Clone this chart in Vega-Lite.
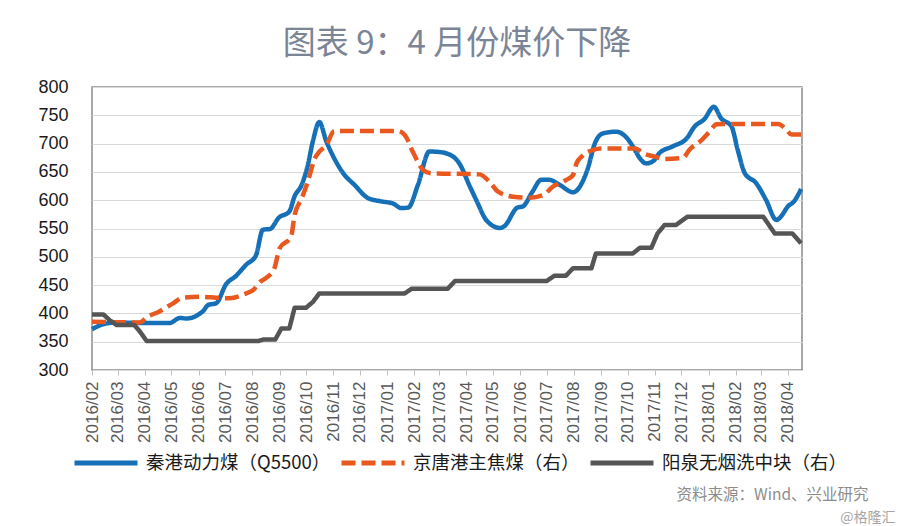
{
"$schema": "https://vega.github.io/schema/vega-lite/v6.json",
"width": 710, "height": 283,
"autosize": {"type": "none"},
"padding": {"left": 92, "top": 87, "right": 98, "bottom": 156},
"background": "white",
"title": {"text": "图表 9：4 月份煤价下降", "font": "Noto Sans CJK SC", "fontSize": 33, "fontWeight": "normal", "color": "#7b8596", "anchor": "middle", "offset": 17, "dx": 10},
"config": {
  "view": {"stroke": "#8c8c8c", "strokeWidth": 1.5},
  "font": "Liberation Sans",
  "legend": {"orient": "none", "legendX": -20, "legendY": 342, "direction": "horizontal", "symbolType": "stroke", "symbolSize": 3969, "symbolStrokeWidth": 5, "labelFontSize": 18.5, "labelFont": "Noto Sans CJK SC", "labelColor": "#1a1a1a", "labelOffset": 6, "columnPadding": 0, "labelLimit": 400}
},
"data": {"values": [
{"s":"秦港动力煤（Q5500）","d":"2016/02/01","v":372},{"s":"秦港动力煤（Q5500）","d":"2016/02/14","v":381},{"s":"秦港动力煤（Q5500）","d":"2016/02/29","v":384},{"s":"秦港动力煤（Q5500）","d":"2016/03/31","v":383},{"s":"秦港动力煤（Q5500）","d":"2016/04/29","v":383},{"s":"秦港动力煤（Q5500）","d":"2016/05/11","v":392},{"s":"秦港动力煤（Q5500）","d":"2016/05/18","v":391},{"s":"秦港动力煤（Q5500）","d":"2016/06/06","v":404},{"s":"秦港动力煤（Q5500）","d":"2016/06/12","v":415},{"s":"秦港动力煤（Q5500）","d":"2016/06/21","v":418},{"s":"秦港动力煤（Q5500）","d":"2016/07/02","v":451},{"s":"秦港动力煤（Q5500）","d":"2016/07/14","v":467},{"s":"秦港动力煤（Q5500）","d":"2016/07/25","v":486},{"s":"秦港动力煤（Q5500）","d":"2016/08/05","v":502},{"s":"秦港动力煤（Q5500）","d":"2016/08/13","v":548},{"s":"秦港动力煤（Q5500）","d":"2016/08/21","v":549},{"s":"秦港动力煤（Q5500）","d":"2016/08/31","v":569},{"s":"秦港动力煤（Q5500）","d":"2016/09/12","v":580},{"s":"秦港动力煤（Q5500）","d":"2016/09/18","v":607},{"s":"秦港动力煤（Q5500）","d":"2016/09/26","v":627},{"s":"秦港动力煤（Q5500）","d":"2016/10/03","v":662},{"s":"秦港动力煤（Q5500）","d":"2016/10/09","v":706},{"s":"秦港动力煤（Q5500）","d":"2016/10/16","v":738},{"s":"秦港动力煤（Q5500）","d":"2016/10/24","v":704},{"s":"秦港动力煤（Q5500）","d":"2016/11/01","v":677},{"s":"秦港动力煤（Q5500）","d":"2016/11/12","v":648},{"s":"秦港动力煤（Q5500）","d":"2016/11/25","v":627},{"s":"秦港动力煤（Q5500）","d":"2016/12/10","v":604},{"s":"秦港动力煤（Q5500）","d":"2016/12/25","v":598},{"s":"秦港动力煤（Q5500）","d":"2017/01/08","v":594},{"s":"秦港动力煤（Q5500）","d":"2017/01/17","v":586},{"s":"秦港动力煤（Q5500）","d":"2017/01/25","v":587},{"s":"秦港动力煤（Q5500）","d":"2017/02/05","v":627},{"s":"秦港动力煤（Q5500）","d":"2017/02/18","v":686},{"s":"秦港动力煤（Q5500）","d":"2017/03/02","v":685},{"s":"秦港动力煤（Q5500）","d":"2017/03/17","v":677},{"s":"秦港动力煤（Q5500）","d":"2017/03/24","v":665},{"s":"秦港动力煤（Q5500）","d":"2017/04/05","v":624},{"s":"秦港动力煤（Q5500）","d":"2017/04/12","v":601},{"s":"秦港动力煤（Q5500）","d":"2017/04/24","v":564},{"s":"秦港动力煤（Q5500）","d":"2017/05/09","v":551},{"s":"秦港动力煤（Q5500）","d":"2017/05/14","v":554},{"s":"秦港动力煤（Q5500）","d":"2017/05/29","v":587},{"s":"秦港动力煤（Q5500）","d":"2017/06/04","v":589},{"s":"秦港动力煤（Q5500）","d":"2017/06/15","v":615},{"s":"秦港动力煤（Q5500）","d":"2017/06/25","v":636},{"s":"秦港动力煤（Q5500）","d":"2017/07/04","v":636},{"s":"秦港动力煤（Q5500）","d":"2017/07/16","v":627},{"s":"秦港动力煤（Q5500）","d":"2017/07/31","v":614},{"s":"秦港动力煤（Q5500）","d":"2017/08/11","v":633},{"s":"秦港动力煤（Q5500）","d":"2017/08/17","v":657},{"s":"秦港动力煤（Q5500）","d":"2017/08/25","v":701},{"s":"秦港动力煤（Q5500）","d":"2017/09/03","v":718},{"s":"秦港动力煤（Q5500）","d":"2017/09/18","v":721},{"s":"秦港动力煤（Q5500）","d":"2017/09/29","v":712},{"s":"秦港动力煤（Q5500）","d":"2017/10/07","v":695},{"s":"秦港动力煤（Q5500）","d":"2017/10/15","v":674},{"s":"秦港动力煤（Q5500）","d":"2017/10/22","v":665},{"s":"秦港动力煤（Q5500）","d":"2017/10/30","v":669},{"s":"秦港动力煤（Q5500）","d":"2017/11/06","v":683},{"s":"秦港动力煤（Q5500）","d":"2017/11/21","v":695},{"s":"秦港动力煤（Q5500）","d":"2017/12/07","v":709},{"s":"秦港动力煤（Q5500）","d":"2017/12/16","v":730},{"s":"秦港动力煤（Q5500）","d":"2017/12/27","v":743},{"s":"秦港动力煤（Q5500）","d":"2018/01/07","v":765},{"s":"秦港动力煤（Q5500）","d":"2018/01/15","v":745},{"s":"秦港动力煤（Q5500）","d":"2018/01/27","v":730},{"s":"秦港动力煤（Q5500）","d":"2018/02/03","v":689},{"s":"秦港动力煤（Q5500）","d":"2018/02/11","v":648},{"s":"秦港动力煤（Q5500）","d":"2018/02/24","v":630},{"s":"秦港动力煤（Q5500）","d":"2018/03/07","v":601},{"s":"秦港动力煤（Q5500）","d":"2018/03/19","v":565},{"s":"秦港动力煤（Q5500）","d":"2018/03/24","v":571},{"s":"秦港动力煤（Q5500）","d":"2018/04/01","v":589},{"s":"秦港动力煤（Q5500）","d":"2018/04/08","v":598},{"s":"秦港动力煤（Q5500）","d":"2018/04/16","v":620},
{"s":"京唐港主焦煤（右）","d":"2016/02/01","v":673},{"s":"京唐港主焦煤（右）","d":"2016/03/26","v":669},{"s":"京唐港主焦煤（右）","d":"2016/04/04","v":701},{"s":"京唐港主焦煤（右）","d":"2016/04/17","v":730},{"s":"京唐港主焦煤（右）","d":"2016/05/03","v":777},{"s":"京唐港主焦煤（右）","d":"2016/05/14","v":809},{"s":"京唐港主焦煤（右）","d":"2016/06/02","v":814},{"s":"京唐港主焦煤（右）","d":"2016/06/21","v":809},{"s":"京唐港主焦煤（右）","d":"2016/07/06","v":805},{"s":"京唐港主焦煤（右）","d":"2016/07/25","v":833},{"s":"京唐港主焦煤（右）","d":"2016/08/02","v":852},{"s":"京唐港主焦煤（右）","d":"2016/08/10","v":899},{"s":"京唐港主焦煤（右）","d":"2016/08/16","v":918},{"s":"京唐港主焦煤（右）","d":"2016/08/26","v":975},{"s":"京唐港主焦煤（右）","d":"2016/09/01","v":1088},{"s":"京唐港主焦煤（右）","d":"2016/09/14","v":1154},{"s":"京唐港主焦煤（右）","d":"2016/09/18","v":1276},{"s":"京唐港主焦煤（右）","d":"2016/09/26","v":1370},{"s":"京唐港主焦煤（右）","d":"2016/10/03","v":1465},{"s":"京唐港主焦煤（右）","d":"2016/10/11","v":1597},{"s":"京唐港主焦煤（右）","d":"2016/10/16","v":1634},{"s":"京唐港主焦煤（右）","d":"2016/10/24","v":1672},{"s":"京唐港主焦煤（右）","d":"2016/11/02","v":1751},{"s":"京唐港主焦煤（右）","d":"2017/01/13","v":1751},{"s":"京唐港主焦煤（右）","d":"2017/01/21","v":1729},{"s":"京唐港主焦煤（右）","d":"2017/01/31","v":1625},{"s":"京唐港主焦煤（右）","d":"2017/02/11","v":1531},{"s":"京唐港主焦煤（右）","d":"2017/02/20","v":1512},{"s":"京唐港主焦煤（右）","d":"2017/04/16","v":1506},{"s":"京唐港主焦煤（右）","d":"2017/04/27","v":1465},{"s":"京唐港主焦煤（右）","d":"2017/05/07","v":1408},{"s":"京唐港主焦煤（右）","d":"2017/05/24","v":1380},{"s":"京唐港主焦煤（右）","d":"2017/06/12","v":1374},{"s":"京唐港主焦煤（右）","d":"2017/06/27","v":1389},{"s":"京唐港主焦煤（右）","d":"2017/07/08","v":1436},{"s":"京唐港主焦煤（右）","d":"2017/07/23","v":1474},{"s":"京唐港主焦煤（右）","d":"2017/07/31","v":1502},{"s":"京唐港主焦煤（右）","d":"2017/08/04","v":1568},{"s":"京唐港主焦煤（右）","d":"2017/08/11","v":1612},{"s":"京唐港主焦煤（右）","d":"2017/08/23","v":1644},{"s":"京唐港主焦煤（右）","d":"2017/08/31","v":1653},{"s":"京唐港主焦煤（右）","d":"2017/10/09","v":1653},{"s":"京唐港主焦煤（右）","d":"2017/10/21","v":1621},{"s":"京唐港主焦煤（右）","d":"2017/11/01","v":1606},{"s":"京唐港主焦煤（右）","d":"2017/11/12","v":1593},{"s":"京唐港主焦煤（右）","d":"2017/12/03","v":1600},{"s":"京唐港主焦煤（右）","d":"2017/12/10","v":1644},{"s":"京唐港主焦煤（右）","d":"2017/12/24","v":1700},{"s":"京唐港主焦煤（右）","d":"2018/01/02","v":1747},{"s":"京唐港主焦煤（右）","d":"2018/01/10","v":1789},{"s":"京唐港主焦煤（右）","d":"2018/01/19","v":1791},{"s":"京唐港主焦煤（右）","d":"2018/03/21","v":1791},{"s":"京唐港主焦煤（右）","d":"2018/03/29","v":1766},{"s":"京唐港主焦煤（右）","d":"2018/04/05","v":1732},{"s":"京唐港主焦煤（右）","d":"2018/04/16","v":1732},
{"s":"阳泉无烟洗中块（右）","d":"2016/02/01","v":714},{"s":"阳泉无烟洗中块（右）","d":"2016/02/14","v":714},{"s":"阳泉无烟洗中块（右）","d":"2016/02/21","v":682},{"s":"阳泉无烟洗中块（右）","d":"2016/02/29","v":654},{"s":"阳泉无烟洗中块（右）","d":"2016/03/20","v":654},{"s":"阳泉无烟洗中块（右）","d":"2016/03/26","v":620},{"s":"阳泉无烟洗中块（右）","d":"2016/04/03","v":564},{"s":"阳泉无烟洗中块（右）","d":"2016/08/08","v":564},{"s":"阳泉无烟洗中块（右）","d":"2016/08/13","v":572},{"s":"阳泉无烟洗中块（右）","d":"2016/08/27","v":572},{"s":"阳泉无烟洗中块（右）","d":"2016/09/03","v":635},{"s":"阳泉无烟洗中块（右）","d":"2016/09/12","v":635},{"s":"阳泉无烟洗中块（右）","d":"2016/09/18","v":752},{"s":"阳泉无烟洗中块（右）","d":"2016/10/01","v":752},{"s":"阳泉无烟洗中块（右）","d":"2016/10/09","v":786},{"s":"阳泉无烟洗中块（右）","d":"2016/10/16","v":833},{"s":"阳泉无烟洗中块（右）","d":"2017/01/21","v":833},{"s":"阳泉无烟洗中块（右）","d":"2017/01/29","v":860},{"s":"阳泉无烟洗中块（右）","d":"2017/03/11","v":860},{"s":"阳泉无烟洗中块（右）","d":"2017/03/19","v":903},{"s":"阳泉无烟洗中块（右）","d":"2017/07/01","v":903},{"s":"阳泉无烟洗中块（右）","d":"2017/07/10","v":933},{"s":"阳泉无烟洗中块（右）","d":"2017/07/23","v":933},{"s":"阳泉无烟洗中块（右）","d":"2017/07/31","v":975},{"s":"阳泉无烟洗中块（右）","d":"2017/08/21","v":975},{"s":"阳泉无烟洗中块（右）","d":"2017/08/26","v":1059},{"s":"阳泉无烟洗中块（右）","d":"2017/10/07","v":1059},{"s":"阳泉无烟洗中块（右）","d":"2017/10/15","v":1091},{"s":"阳泉无烟洗中块（右）","d":"2017/10/28","v":1091},{"s":"阳泉无烟洗中块（右）","d":"2017/11/04","v":1172},{"s":"阳泉无烟洗中块（右）","d":"2017/11/12","v":1220},{"s":"阳泉无烟洗中块（右）","d":"2017/11/25","v":1220},{"s":"阳泉无烟洗中块（右）","d":"2017/12/08","v":1267},{"s":"阳泉无烟洗中块（右）","d":"2018/03/04","v":1267},{"s":"阳泉无烟洗中块（右）","d":"2018/03/17","v":1172},{"s":"阳泉无烟洗中块（右）","d":"2018/04/06","v":1172},{"s":"阳泉无烟洗中块（右）","d":"2018/04/16","v":1116}
]},
"encoding": {
  "x": {"field": "d", "type": "temporal",
    "scale": {"domain": [{"year": 2016, "month": 2, "date": 1}, {"year": 2018, "month": 4, "date": 17}]},
    "axis": {"title": "资料来源：Wind、兴业研究", "titleX": 776, "titleY": 124, "titleAlign": "right", "titleBaseline": "middle", "titleFontSize": 15.5, "titleColor": "#8c8c8c", "titleFont": "Noto Sans CJK SC", "titleFontWeight": "normal",
      "format": "%Y/%m", "labelAngle": 270, "labelFontSize": 17, "labelColor": "#595959", "labelPadding": 6, "tickSize": 5, "tickColor": "#bfbfbf", "domain": false, "grid": false, "tickCount": {"interval": "month", "step": 1}, "labelOverlap": false, "labelFlush": false}},
  "color": {"field": "s", "type": "nominal", "title": null,
    "scale": {"domain": ["秦港动力煤（Q5500）", "京唐港主焦煤（右）", "阳泉无烟洗中块（右）"], "range": ["#1570b8", "#e9581f", "#555555"]}},
  "strokeDash": {"field": "s", "type": "nominal", "title": null,
    "scale": {"domain": ["秦港动力煤（Q5500）", "京唐港主焦煤（右）", "阳泉无烟洗中块（右）"], "range": [[1, 0], [14, 6], [1, 0]]}}
},
"layer": [
  {"transform": [{"filter": "datum.s === '秦港动力煤（Q5500）'"}],
   "mark": {"type": "line", "strokeWidth": 4.5, "interpolate": "monotone", "strokeJoin": "round"},
   "encoding": {"y": {"field": "v", "type": "quantitative", "scale": {"domain": [300, 800], "nice": false, "zero": false},
     "axis": {"values": [300, 350, 400, 450, 500, 550, 600, 650, 700, 750, 800], "grid": true, "gridColor": "#d9d9d9", "gridWidth": 1.2, "domain": false, "ticks": false, "labelFontSize": 18, "labelColor": "#1a1a1a", "labelPadding": 24, "labelFlush": false,
       "title": "@格隆汇", "titleAngle": 0, "titleX": 803, "titleY": 430, "titleAlign": "right", "titleBaseline": "middle", "titleFontSize": 14, "titleColor": "#a6a6a6", "titleFont": "Noto Sans CJK SC", "titleFontWeight": "normal"}}}},
  {"layer": [
    {"transform": [{"filter": "datum.s === '京唐港主焦煤（右）'"}],
     "mark": {"type": "line", "strokeWidth": 4.5, "interpolate": "monotone", "strokeJoin": "round"},
     "encoding": {"y": {"field": "v", "type": "quantitative", "scale": {"domain": [400, 2000], "nice": false, "zero": false},
       "axis": {"orient": "right", "title": null, "values": [400, 600, 800, 1000, 1200, 1400, 1600, 1800, 2000], "format": ",", "grid": false, "domain": false, "ticks": false, "labelFontSize": 18, "labelColor": "#1a1a1a", "labelPadding": 13, "labelFlush": false}}}},
    {"transform": [{"filter": "datum.s === '阳泉无烟洗中块（右）'"}],
     "mark": {"type": "line", "strokeWidth": 4.5, "strokeJoin": "round"},
     "encoding": {"y": {"field": "v", "type": "quantitative", "scale": {"domain": [400, 2000], "nice": false, "zero": false}, "axis": null}}}
  ]}
],
"resolve": {"scale": {"y": "independent"}}
}
